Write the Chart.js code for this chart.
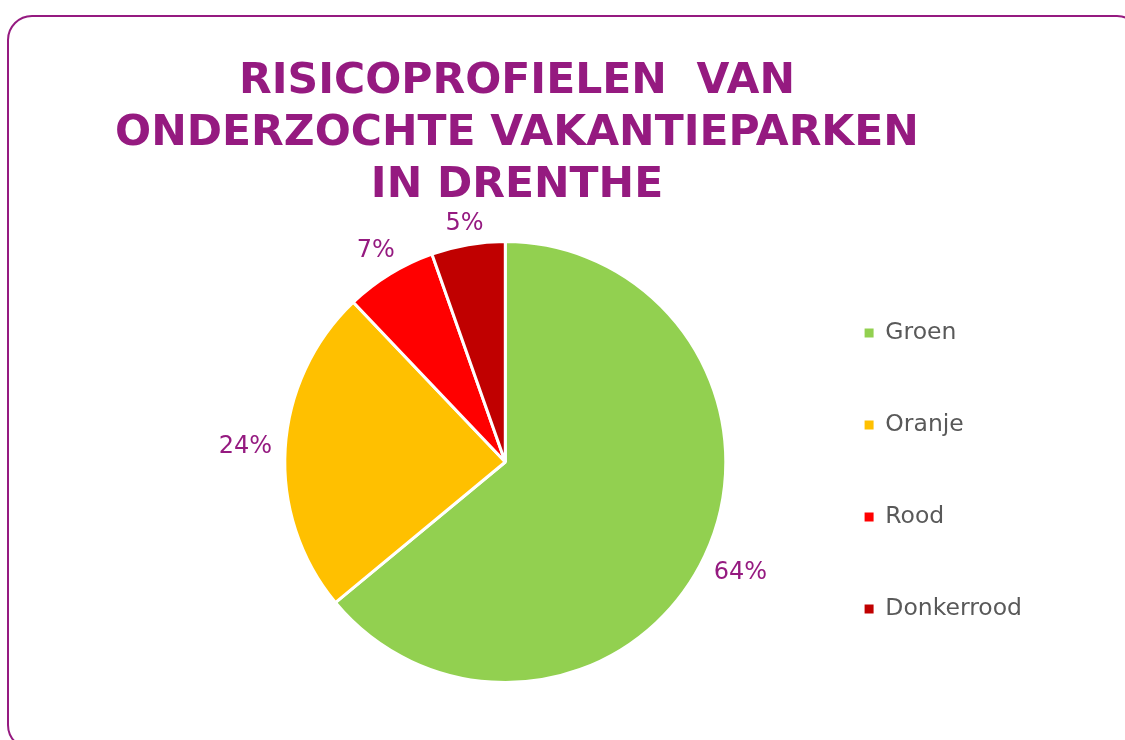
<!DOCTYPE html>
<html>
<head>
<meta charset="utf-8">
<script src="https://cdn.jsdelivr.net/npm/chart.js@4.4.0/dist/chart.umd.min.js"></script>
<style>
  html, body { margin: 0; padding: 0; background: #fff; overflow: hidden; }
  #frame { position: absolute; left: 7px; top: 15px; width: 1131px; height: 731px; border: 2px solid #951a80; border-radius: 25px; }
  #wrap { position: absolute; left: 0; top: 0; width: 1125px; height: 740px; }
</style>
</head>
<body>
<div id="frame"></div>
<div id="wrap"><canvas id="myChart" width="1125" height="740"></canvas></div>
<script>
// Chart data
var titleLines = ['RISICOPROFIELEN  VAN', 'ONDERZOCHTE VAKANTIEPARKEN', 'IN DRENTHE'];
var categories = ['Groen', 'Oranje', 'Rood', 'Donkerrood'];
var shares = [64.0, 23.9, 6.7, 5.4];
var sliceColors = ['#92D050', '#FFC000', '#FF0000', '#C00000'];

var purple = '#951a80';

// percentage labels just outside each slice
var outsideLabels = {
  id: 'outsideLabels',
  afterDatasetsDraw: function(chart) {
    var ctx = chart.ctx;
    var meta = chart.getDatasetMeta(0);
    var total = shares.reduce(function(a, b) { return a + b; }, 0);
    ctx.save();
    ctx.font = '24px "DejaVu Sans"';
    ctx.fillStyle = purple;
    ctx.textAlign = 'center';
    ctx.textBaseline = 'middle';
    meta.data.forEach(function(arc, i) {
      var p = arc.getProps(['x', 'y', 'startAngle', 'endAngle', 'outerRadius'], true);
      var mid = (p.startAngle + p.endAngle) / 2;
      var text = Math.round(shares[i] / total * 100) + '%';
      var w = ctx.measureText(text).width;
      var dist = p.outerRadius + 13 + Math.abs(Math.cos(mid)) * w / 2 + Math.abs(Math.sin(mid)) * 5;
      ctx.fillText(text, p.x + Math.cos(mid) * dist, p.y + Math.sin(mid) * dist);
    });
    ctx.restore();
  }
};

// move title and legend a bit, the pie keeps its place
var nudge = {
  id: 'nudge',
  afterLayout: function(chart) {
    var t = chart.titleBlock;
    var dx = 517 - (t.left + t.right) / 2;
    t.left += dx;
    t.right += dx;
    chart.legend.top += 129;
    chart.legend.bottom += 129;
  }
};

var ctx = document.getElementById('myChart').getContext('2d');
var myChart = new Chart(ctx, {
  type: 'pie',
  data: {
    labels: categories,
    datasets: [{
      data: shares,
      backgroundColor: sliceColors,
      borderColor: '#fff',
      borderWidth: 3,
    }]
  },
  options: {
    responsive: false,
    animation: false,
    layout: {
      padding: { left: 214.5, right: 93, top: 0, bottom: 56 }
    },
    plugins: {
      title: {
        display: true,
        text: titleLines,
        color: purple,
        font: { family: '"DejaVu Sans", Verdana, sans-serif', size: 42.5, weight: 'bold', lineHeight: '52px' },
        padding: { top: 56, bottom: 28 }
      },
      legend: {
        position: 'right',
        labels: {
          color: '#595959',
          font: { family: '"DejaVu Sans", Verdana, sans-serif', size: 23.5 },
          boxWidth: 9,
          boxHeight: 9,
          padding: 68.5,
          generateLabels: function(chart) {
            var items = Chart.overrides.doughnut.plugins.legend.labels.generateLabels(chart);
            items.forEach(function(it) { it.lineWidth = 0; });
            return items;
          }
        }
      },
      tooltip: { enabled: false }
    }
  },
  plugins: [outsideLabels, nudge]
});
</script>
</body>
</html>
